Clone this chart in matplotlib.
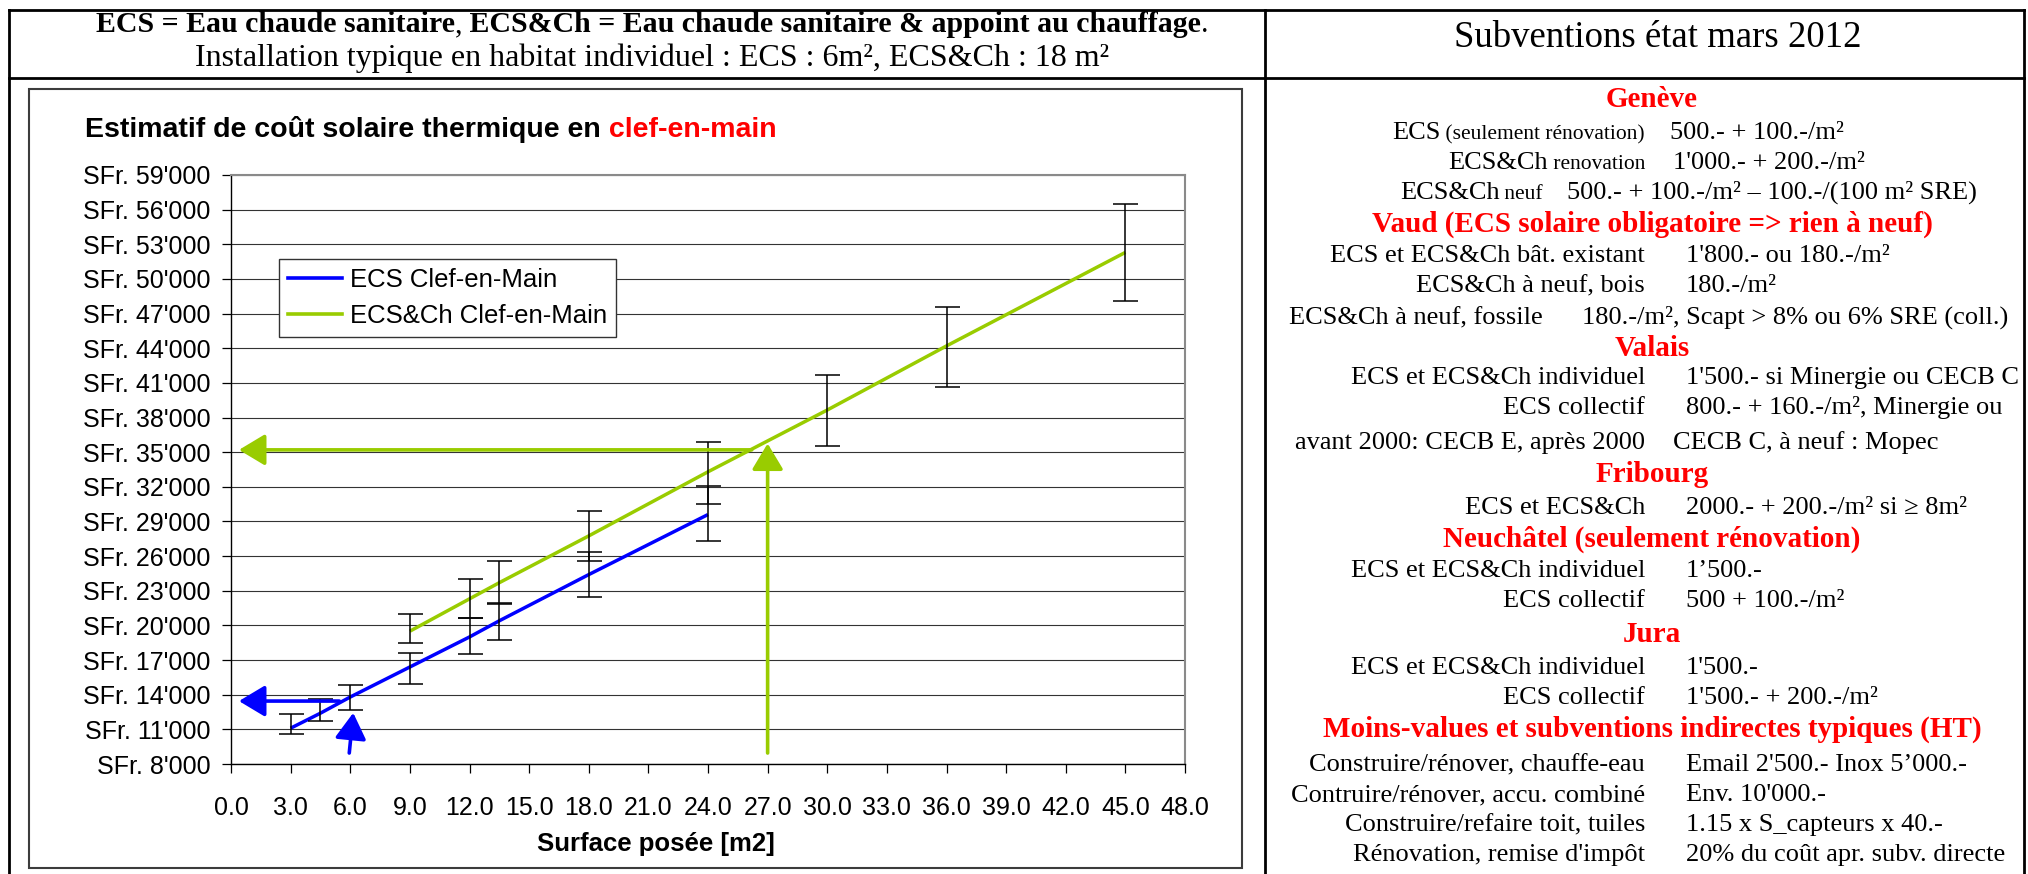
import matplotlib
matplotlib.use("Agg")
import matplotlib.pyplot as plt
from matplotlib.lines import Line2D
from matplotlib.patches import Rectangle

W, H = 2028, 874

# --- chart data ---
ecs_x = [3, 4.5, 6, 9, 12, 13.5, 18, 24]
ecs_cost = [11100, 12400, 13800, 16400, 19000, 20400, 24400, 29600]
ecs_low = [10600, 11750, 12650, 14950, 17500, 18700, 22450, 27300]
ecs_high = [12300, 13600, 14850, 17650, 20600, 21950, 26350, 32050]

ecsch_x = [9, 12, 13.5, 18, 24, 30, 36, 45]
ecsch_cost = [19500, 22300, 23700, 27750, 33300, 38650, 44200, 52300]
ecsch_low = [18450, 20600, 21850, 25550, 30550, 35500, 40650, 48100]
ecsch_high = [21000, 24000, 25550, 29900, 35850, 41700, 47600, 56450]

# reading arrows: (x_from, y_from, x_to, y_to)
ecs_arrows = [(5.45, 13450, 0.4, 13450), (5.95, 8950, 6.15, 12430)]
ecsch_arrows = [(26.2, 35200, 0.4, 35200), (27.0, 8950, 27.0, 35750)]

x_ticks = [0, 3, 6, 9, 12, 15, 18, 21, 24, 27, 30, 33, 36, 39, 42, 45, 48]
x_tick_labels = ["0.0", "3.0", "6.0", "9.0", "12.0", "15.0", "18.0", "21.0", "24.0",
                 "27.0", "30.0", "33.0", "36.0", "39.0", "42.0", "45.0", "48.0"]
y_ticks = [8000, 11000, 14000, 17000, 20000, 23000, 26000, 29000, 32000,
           35000, 38000, 41000, 44000, 47000, 50000, 53000, 56000, 59000]
y_tick_labels = ["SFr. 8'000", "SFr. 11'000", "SFr. 14'000", "SFr. 17'000", "SFr. 20'000",
                 "SFr. 23'000", "SFr. 26'000", "SFr. 29'000", "SFr. 32'000", "SFr. 35'000",
                 "SFr. 38'000", "SFr. 41'000", "SFr. 44'000", "SFr. 47'000", "SFr. 50'000",
                 "SFr. 53'000", "SFr. 56'000", "SFr. 59'000"]

series_labels = ["ECS Clef-en-Main", "ECS&Ch Clef-en-Main"]

# --- subsidies text (right column) ---
subsidy_title = "Subventions état mars 2012"
subsidy_rows = [
    ("head", "Genève", None),
    ("row", [("ECS", None), (" (seulement rénovation)", "small")], "500.- + 100.-/m²"),
    ("row", [("ECS&Ch", None), (" renovation", "small")], "1'000.- + 200.-/m²"),
    ("row", [("ECS&Ch", None), (" neuf", "small")], "500.- + 100.-/m² – 100.-/(100 m² SRE)"),
    ("head", "Vaud (ECS solaire obligatoire => rien à neuf)", None),
    ("row", "ECS et ECS&Ch bât. existant", "1'800.- ou 180.-/m²"),
    ("row", "ECS&Ch à neuf, bois", "180.-/m²"),
    ("row", "ECS&Ch à neuf, fossile", "180.-/m², Scapt > 8% ou 6% SRE (coll.)"),
    ("head", "Valais", None),
    ("row", "ECS et ECS&Ch individuel", "1'500.- si Minergie ou CECB C"),
    ("row", "ECS collectif", "800.- + 160.-/m², Minergie ou"),
    ("row", "avant 2000: CECB E, après 2000", "CECB C, à neuf : Mopec"),
    ("head", "Fribourg", None),
    ("row", "ECS et ECS&Ch", "2000.- + 200.-/m² si ≥ 8m²"),
    ("head", "Neuchâtel (seulement rénovation)", None),
    ("row", "ECS et ECS&Ch individuel", "1’500.-"),
    ("row", "ECS collectif", "500 + 100.-/m²"),
    ("head", "Jura", None),
    ("row", "ECS et ECS&Ch individuel", "1'500.-"),
    ("row", "ECS collectif", "1'500.- + 200.-/m²"),
    ("head", "Moins-values et subventions indirectes typiques (HT)", None),
    ("row", "Construire/rénover, chauffe-eau", "Email 2'500.- Inox 5’000.-"),
    ("row", "Contruire/rénover, accu. combiné", "Env. 10'000.-"),
    ("row", "Construire/refaire toit, tuiles", "1.15 x S_capteurs x 40.-"),
    ("row", "Rénovation, remise d'impôt", "20% du coût apr. subv. directe"),
]

# layout of the right column, in pixels from the top-left corner
row_y = [98, 130, 160, 190, 223, 253, 283, 315, 347, 375, 405, 440, 473,
         505, 538, 568, 598, 633, 665, 695, 728, 762, 792, 822, 852]
row_tabs = {1: (1645, 1670), 2: (1645, 1673), 3: (1543, 1567), 7: (1543, 1582), 11: (1645, 1673)}
default_tab = (1645, 1686)

BLUE = "#0000FF"
GREEN = "#99CC00"
RED = "#FF0000"
SERIF = "Liberation Serif"

plt.rcParams["font.family"] = ["Liberation Sans", "DejaVu Sans"]


def fx(x):
    return x / W


def fy(y):
    return 1 - y / H


fig = plt.figure(figsize=(W / 100, H / 100), dpi=100)
fig.patch.set_facecolor("white")
renderer = fig.canvas.get_renderer()


def draw_runs(x, y, runs, ha="left", **common):
    """Draw several text pieces one after the other on a common baseline."""
    texts = [fig.text(0, 0, s, va="baseline", **{**common, **style}) for s, style in runs]
    widths = [t.get_window_extent(renderer).width for t in texts]
    left = x - {"left": 0.0, "center": 0.5, "right": 1.0}[ha] * sum(widths)
    for t, w in zip(texts, widths):
        t.set_position((fx(left), fy(y)))
        left += w


# table lines
for (x0, y0, x1, y1) in [(9, 10, 2024, 10), (9, 78, 2024, 78), (9, 10, 9, 874),
                         (1265, 10, 1265, 874), (2024, 10, 2024, 874)]:
    fig.add_artist(Line2D([fx(x0), fx(x1)], [fy(y0), fy(y1)], transform=fig.transFigure,
                          color="black", lw=2, solid_capstyle="projecting"))

# header texts
draw_runs(652, 32, [("ECS = Eau chaude sanitaire", {"fontweight": "bold"}),
                    (",", {}),
                    (" ECS&Ch = Eau chaude sanitaire & appoint au chauffage", {"fontweight": "bold"}),
                    (".", {})],
          ha="center", family=SERIF, fontsize=21.5, color="black")
fig.text(fx(652), fy(66), "Installation typique en habitat individuel : ECS : 6m², ECS&Ch : 18 m²",
         ha="center", va="baseline", family=SERIF, fontsize=23)
fig.text(fx(1658), fy(47), subsidy_title, ha="center", va="baseline", family=SERIF, fontsize=26.5)

# chart area frame
fig.add_artist(Rectangle((fx(29), fy(868)), (1242 - 29) / W, (868 - 89) / H,
                         transform=fig.transFigure, fill=False, ec="#3c3c3c", lw=1.5))

draw_runs(85, 137, [("Estimatif de coût solaire thermique en", {"color": "black"}),
                    (" clef-en-main", {"color": RED})],
          fontsize=20.5, fontweight="bold")

ax = fig.add_axes([fx(231), fy(764), (1185 - 231) / W, (764 - 175) / H])

ecs_err = [[c - lo for c, lo in zip(ecs_cost, ecs_low)], [hi - c for c, hi in zip(ecs_cost, ecs_high)]]
ecsch_err = [[c - lo for c, lo in zip(ecsch_cost, ecsch_low)], [hi - c for c, hi in zip(ecsch_cost, ecsch_high)]]

ax.plot(ecs_x, ecs_cost, color=BLUE, lw=2.5, zorder=3, solid_capstyle="butt")
ax.plot(ecsch_x, ecsch_cost, color=GREEN, lw=2.5, zorder=3, solid_capstyle="butt")
ax.errorbar(ecs_x, ecs_cost, yerr=ecs_err, fmt="none", ecolor="black", elinewidth=1.1,
            capsize=9, capthick=1.1, zorder=4)
ax.errorbar(ecsch_x, ecsch_cost, yerr=ecsch_err, fmt="none", ecolor="black", elinewidth=1.1,
            capsize=9, capthick=1.1, zorder=4)

for arrows, color in [(ecs_arrows, BLUE), (ecsch_arrows, GREEN)]:
    for x0, y0, x1, y1 in arrows:
        ax.annotate("", xy=(x1, y1), xytext=(x0, y0),
                    arrowprops=dict(arrowstyle="-|>,head_length=0.4,head_width=0.24",
                                    color=color, lw=2.6, mutation_scale=40,
                                    shrinkA=0, shrinkB=0), zorder=5)

ax.set_xlim(0, 48)
ax.set_ylim(8000, 59000)
ax.set_xticks(x_ticks)
ax.set_xticklabels(x_tick_labels)
ax.set_yticks(y_ticks)
ax.set_yticklabels(y_tick_labels)
ax.tick_params(axis="x", labelsize=18, length=6.3, width=0.9, pad=16.5, direction="out")
ax.tick_params(axis="y", labelsize=18, length=6.5, width=0.9, pad=8.5, direction="out")
ax.grid(True, axis="y", color="#333333", lw=0.8)
ax.set_axisbelow(True)
for side in ["left", "bottom"]:
    ax.spines[side].set_color("black")
    ax.spines[side].set_linewidth(1.0)
for side in ["top", "right"]:
    ax.spines[side].set_color("#8a8a8a")
    ax.spines[side].set_linewidth(1.5)

fig.text(fx(656), fy(851), "Surface posée [m2]", ha="center", va="baseline",
         fontsize=18.5, fontweight="bold")

leg_handles = [Line2D([], [], color=BLUE, lw=2.6), Line2D([], [], color=GREEN, lw=2.6)]
leg = ax.legend(leg_handles, series_labels, loc="upper left", bbox_to_anchor=(fx(279), fy(259)),
                bbox_transform=fig.transFigure, borderaxespad=0, fancybox=False, framealpha=1,
                edgecolor="#333333", fontsize=18.5, handlelength=2.1, handletextpad=0.3,
                borderpad=0.35, labelspacing=0.45)
leg.get_frame().set_linewidth(1.0)

# right column: subsidies by canton
for i, (kind, label, value) in enumerate(subsidy_rows):
    base = row_y[i] + 9
    if kind == "head":
        fig.text(fx(1652), fy(base), label, ha="center", va="baseline", family=SERIF,
                 fontsize=21, fontweight="bold", color=RED)
        continue
    label_x, value_x = row_tabs.get(i, default_tab)
    runs = label if isinstance(label, list) else [(label, None)]
    runs = [(s, {"fontsize": 15.5} if size == "small" else {}) for s, size in runs]
    draw_runs(label_x, base, runs, ha="right", family=SERIF, fontsize=19)
    fig.text(fx(value_x), fy(base), value, ha="left", va="baseline", family=SERIF, fontsize=19)

fig.savefig("out.png", dpi=100, facecolor="white")
